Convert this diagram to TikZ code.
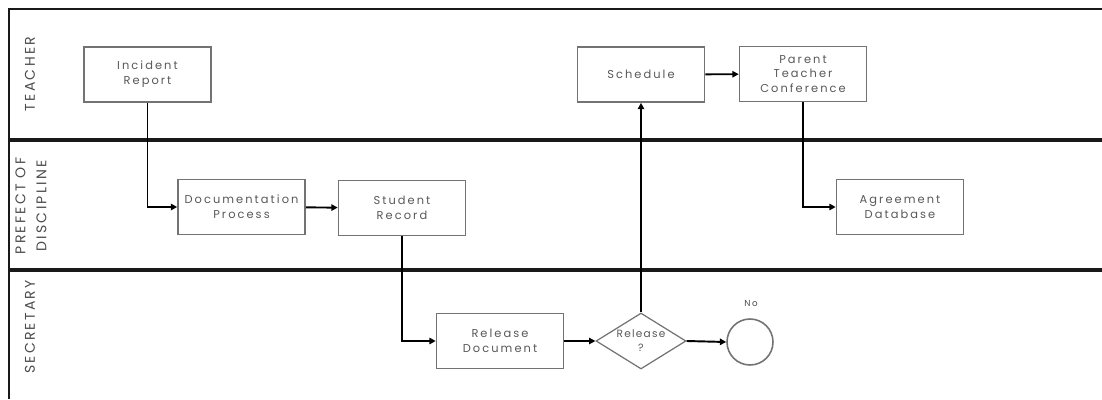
\documentclass[tikz,border=0pt]{standalone}
\usepackage{fontspec}
\setmainfont{Poppins}
\newfontfamily\boxfont[LetterSpace=18]{Poppins}
\newfontfamily\decfont[LetterSpace=12]{Poppins}
\newfontfamily\lanefont[LetterSpace=16]{Poppins}
\usetikzlibrary{arrows.meta, shapes.geometric}
\colorlet{boxline}{black!55}
\colorlet{boxtext}{black!65}
\colorlet{laneline}{black!90}

\begin{document}
\begin{tikzpicture}[>={Triangle[length=3.6pt, width=3.6pt]}, x=0.02cm, y=-0.02cm,
    stepbox/.style={draw=boxline, line width=0.9pt, fill=white, minimum width=2.54cm,
      minimum height=1.1cm, align=center, text=boxtext, inner sep=1pt,
      font=\boxfont\fontsize{6.5}{8.4}\selectfont},
    decision/.style={diamond, draw=boxline, line width=0.7pt, fill=white, aspect=1.6,
      minimum width=1.8cm, minimum height=1.12cm, inner sep=0pt, align=center,
      text=boxtext, font=\decfont\fontsize{6}{8}\selectfont},
    stopnode/.style={circle, draw=boxline, line width=0.9pt, fill=white, minimum size=0.92cm, inner sep=0pt},
    lanetitle/.style={rotate=90, align=center, text=black!70, font=\lanefont\fontsize{8}{12}\selectfont},
    flow/.style={->, line width=1.1pt, black}]
    \useasboundingbox (0,0) rectangle (1102,399);

    % Lanes
    \draw[line width=1.6pt, laneline] (1102,9) -- (9,9) -- (9,399);
    \draw[line width=2.4pt, laneline] (9,140) -- (1102,140);
    \draw[line width=2.4pt, laneline] (9,270) -- (1102,270);
    \node[lanetitle] (teacher) at (30,74) {TEACHER};
    \node[lanetitle] (prefect) at (31,206) {PREFECT OF\\DISCIPLINE};
    \node[lanetitle] (secretary) at (30,327) {SECRETARY};

    % Steps
    \node[stepbox] (incident) at (147.5,74.5) {Incident\\Report};
    \node[stepbox] (docproc) at (241.5,207) {Documentation\\Process};
    \node[stepbox] (studrec) at (402,208) {Student\\Record};
    \node[stepbox] (reldoc) at (500,341) {Release\\Document};
    \node[decision] (relq) at (641,341) {\makebox[0pt]{Release}\\?};
    \node[stopnode] (stop) at (750,342) {};
    \node[text=black!70, font=\boxfont\fontsize{5}{6}\selectfont] (nolabel) at (751,303) {No};
    \node[stepbox] (sched) at (641,74.5) {Schedule};
    \node[stepbox] (ptconf) at (803,74) {Parent\\Teacher\\Conference};
    \node[stepbox] (agreedb) at (900,207) {Agreement\\Database};

    % Flow
    \draw[flow] (incident.south) |- (docproc.west);
    \draw[flow] (docproc) -- (studrec);
    \draw[flow] (studrec.south) |- (reldoc.west);
    \draw[flow] (reldoc) -- (relq);
    \draw[flow] (relq.north) -- (sched.south);
    \draw[flow] (relq.east) -- (stop.west);
    \draw[flow] (sched) -- (ptconf);
    \draw[flow] (ptconf.south) |- (agreedb.west);
\end{tikzpicture}
\end{document}
